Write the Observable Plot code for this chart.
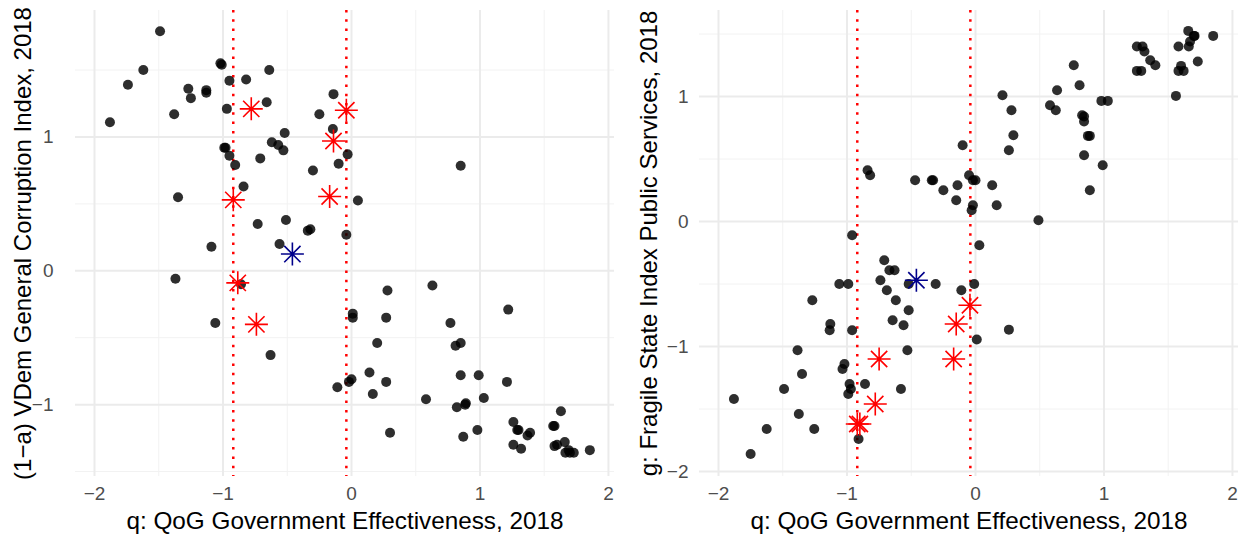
<!DOCTYPE html>
<html>
<head>
<meta charset="utf-8">
<script src="https://cdn.jsdelivr.net/npm/d3@7"></script>
<script src="https://cdn.jsdelivr.net/npm/@observablehq/plot@0.6"></script>
<style>
  html, body { margin: 0; padding: 0; background: #fff; overflow: hidden; }
  #wrap { display: flex; width: 1239px; height: 535px; }
</style>
</head>
<body>
<div id="wrap"></div>
<script>
// ---- data ----
const xTitle = "q: QoG Government Effectiveness, 2018";
const yTitleLeft = "(1\u2212a) VDem General Corruption Index, 2018";
const yTitleRight = "g: Fragile State Index Public Services, 2018";

const xTicks = [-2, -1, 0, 1, 2];
const xMinor = [-1.5, -0.5, 0.5, 1.5];
const yTicksLeft = [-1, 0, 1];
const yMinorLeft = [-1.5, -0.5, 0.5, 1.5];
const yTicksRight = [-2, -1, 0, 1];
const yMinorRight = [-1.5, -0.5, 0.5, 1.5];

const cutoffs = [-0.92, -0.04];

const leftPoints = [
  [-1.49,1.79],[-1.62,1.50],[-1.74,1.39],[-1.88,1.11],[-1.38,1.17],[-1.27,1.36],[-1.25,1.29],
  [-1.13,1.35],[-1.13,1.33],[-1.02,1.55],[-1.01,1.54],[-0.95,1.42],[-0.97,1.21],[-0.82,1.43],
  [-0.64,1.50],[-0.66,1.26],[-0.99,0.92],[-0.98,0.92],[-0.95,0.86],[-0.905,0.79],[-0.71,0.84],
  [-0.62,0.96],[-0.57,0.94],[-0.53,0.90],[-0.52,1.03],[-0.84,0.63],[-1.35,0.55],[-0.73,0.35],
  [-0.51,0.38],[-0.34,0.30],[-0.32,0.31],[-0.30,0.75],[-0.25,1.17],[-0.14,1.32],[-0.145,1.06],
  [-0.03,0.87],[-0.10,0.80],[0.05,0.525],[-0.04,0.27],[-1.09,0.18],[-0.56,0.20],[0.85,0.785],
  [-0.86,-0.10],[-1.37,-0.06],[-1.06,-0.39],[-0.63,-0.63],[0.01,-0.32],[0.01,-0.35],[0.20,-0.54],
  [0.14,-0.76],[0.00,-0.81],[-0.02,-0.83],[-0.11,-0.87],[0.166,-0.92],[0.28,-0.147],[0.63,-0.11],
  [0.27,-0.35],[0.77,-0.39],[1.22,-0.29],[0.85,-0.54],[0.81,-0.56],[0.27,-0.83],[0.85,-0.78],
  [0.99,-0.78],[1.21,-0.83],[0.58,-0.96],[0.82,-1.02],[0.89,-0.99],[0.885,-1.0],[1.03,-0.95],
  [0.30,-1.21],[0.87,-1.24],[0.98,-1.19],[1.26,-1.13],[1.29,-1.19],[1.30,-1.19],[1.37,-1.23],
  [1.39,-1.21],[1.26,-1.30],[1.32,-1.33],[1.63,-1.05],[1.57,-1.16],[1.58,-1.16],[1.58,-1.31],
  [1.60,-1.30],[1.66,-1.28],[1.665,-1.36],[1.69,-1.34],[1.70,-1.36],[1.73,-1.36],[1.855,-1.34]
];
const leftRed = [[-0.78,1.21],[-0.92,0.53],[-0.14,0.97],[-0.04,1.20],[-0.17,0.555],[-0.885,-0.09],[-0.74,-0.40]];
const leftBlue = [[-0.46,0.125]];

const rightPoints = [
  [-0.10,0.61],[-0.84,0.41],[-0.82,0.37],[-0.47,0.33],[-0.34,0.33],[-0.33,0.33],[-0.25,0.25],
  [-0.14,0.29],[-0.15,0.17],[-0.05,0.37],[-0.02,0.33],[0.0,0.33],[-0.02,0.13],[-0.03,0.09],
  [-0.96,-0.11],[0.03,-0.19],[0.13,0.29],[0.165,0.13],[0.49,0.01],[0.21,1.01],[0.28,0.89],
  [0.295,0.69],[0.26,0.57],[0.635,1.05],[0.58,0.93],[0.625,0.89],[0.765,1.25],[0.81,1.09],
  [0.83,0.85],[0.845,0.84],[0.845,0.80],[0.875,0.685],[0.89,0.685],[0.845,0.53],[0.89,0.25],
  [0.98,0.965],[1.03,0.965],[0.99,0.45],[1.256,1.40],[1.30,1.40],[1.315,1.36],[1.36,1.29],
  [1.40,1.25],[1.256,1.205],[1.29,1.205],[1.56,1.005],[1.58,1.40],[1.656,1.525],[1.70,1.485],
  [1.705,1.485],[1.67,1.44],[1.66,1.40],[1.85,1.485],[1.73,1.28],[1.60,1.245],[1.58,1.205],
  [1.62,1.205],[-0.71,-0.31],[-0.67,-0.39],[-0.63,-0.39],[-0.74,-0.47],[-1.06,-0.50],[-0.99,-0.50],
  [-0.52,-0.50],[-0.31,-0.50],[-0.11,-0.55],[-0.01,-0.50],[-0.69,-0.55],[-0.62,-0.63],[-0.52,-0.71],
  [-1.27,-0.63],[-0.645,-0.79],[-0.56,-0.83],[-1.13,-0.82],[-1.135,-0.87],[-0.96,-0.87],[-1.385,-1.03],
  [-0.53,-1.03],[0.01,-0.944],[-1.02,-1.14],[-1.035,-1.18],[-1.35,-1.22],[-1.49,-1.34],[-0.98,-1.30],
  [-0.97,-1.34],[-0.99,-1.38],[-0.86,-1.30],[-0.58,-1.34],[-1.88,-1.42],[-1.375,-1.54],[-0.91,-1.74],
  [-1.625,-1.66],[-1.255,-1.66],[-1.75,-1.86],[0.26,-0.865]
];
const rightRed = [[-0.043,-0.67],[-0.15,-0.82],[-0.75,-1.10],[-0.17,-1.10],[-0.78,-1.46],[-0.92,-1.62],[-0.90,-1.62]];
const rightBlue = [[-0.46,-0.47]];

// ggplot shape 8 asterisk: "+" and "x" overlaid
const asterisk8 = {
  draw(ctx, size) {
    const r = Math.sqrt(size / Math.PI);
    const d = r * Math.SQRT1_2;
    ctx.moveTo(-r, 0); ctx.lineTo(r, 0);
    ctx.moveTo(0, -r); ctx.lineTo(0, r);
    ctx.moveTo(-d, -d); ctx.lineTo(d, d);
    ctx.moveTo(-d, d); ctx.lineTo(d, -d);
  }
};

const grid = "#ebebeb";
const gridMinor = "#f2f2f2";
const tickColor = "#4d4d4d";
const fontFamily = "'Liberation Sans', Arial, Helvetica, sans-serif";
const fmt = d3.format("d");

function panel({width, marginLeft, marginRight, yDomain, yTicks, yMinor, yTitle, yTickPad, yTitleDx, points, red, blue}) {
  return Plot.plot({
    width, height: 535,
    marginLeft, marginRight, marginTop: 10, marginBottom: 59,
    style: {fontFamily, fontSize: "19px", background: "white", overflow: "visible"},
    x: {domain: [-2.148, 2.047]},
    y: {domain: yDomain},
    marks: [
      Plot.gridX(xMinor, {stroke: gridMinor, strokeOpacity: 1, strokeWidth: 1}),
      Plot.gridY(yMinor, {stroke: gridMinor, strokeOpacity: 1, strokeWidth: 1}),
      Plot.gridX(xTicks, {stroke: grid, strokeOpacity: 1, strokeWidth: 2}),
      Plot.gridY(yTicks, {stroke: grid, strokeOpacity: 1, strokeWidth: 2}),
      Plot.axisX(xTicks, {tickSize: 0, tickPadding: 10, label: null, color: tickColor, fontSize: 19, tickFormat: fmt}),
      Plot.axisY(yTicks, {tickSize: 0, tickPadding: yTickPad, label: null, color: tickColor, fontSize: 19, tickFormat: fmt}),
      Plot.ruleX(cutoffs, {stroke: "#ff0000", strokeWidth: 2.5, strokeDasharray: "2.5,6.8"}),
      Plot.dot(points, {x: d => d[0], y: d => d[1], r: 5, fill: "#000", fillOpacity: 0.82, stroke: null}),
      Plot.dot(red, {x: d => d[0], y: d => d[1], r: 11.5, symbol: asterisk8, fill: "none", stroke: "#ff0000", strokeWidth: 1.6}),
      Plot.dot(blue, {x: d => d[0], y: d => d[1], r: 11.5, symbol: asterisk8, fill: "none", stroke: "#00008b", strokeWidth: 1.6}),
      Plot.text([xTitle], {text: d => d, frameAnchor: "bottom", dy: 45, fontSize: 24.3, fill: "#000", lineAnchor: "middle"}),
      Plot.text([yTitle], {text: d => d, frameAnchor: "left", rotate: -90, dx: yTitleDx, fontSize: 24, fill: "#000", lineAnchor: "middle", textAnchor: "middle"})
    ]
  });
}

const wrap = document.getElementById("wrap");
wrap.appendChild(panel({
  width: 620, marginLeft: 75, marginRight: 6,
  yDomain: [-1.537, 1.945], yTicks: yTicksLeft, yMinor: yMinorLeft,
  yTitle: yTitleLeft, yTickPad: 22, yTitleDx: -52,
  points: leftPoints, red: leftRed, blue: leftBlue
}));
wrap.appendChild(panel({
  width: 619, marginLeft: 79, marginRight: 1,
  yDomain: [-2.04, 1.688], yTicks: yTicksRight, yMinor: yMinorRight,
  yTitle: yTitleRight, yTickPad: 11, yTitleDx: -50,
  points: rightPoints, red: rightRed, blue: rightBlue
}));
</script>
</body>
</html>
